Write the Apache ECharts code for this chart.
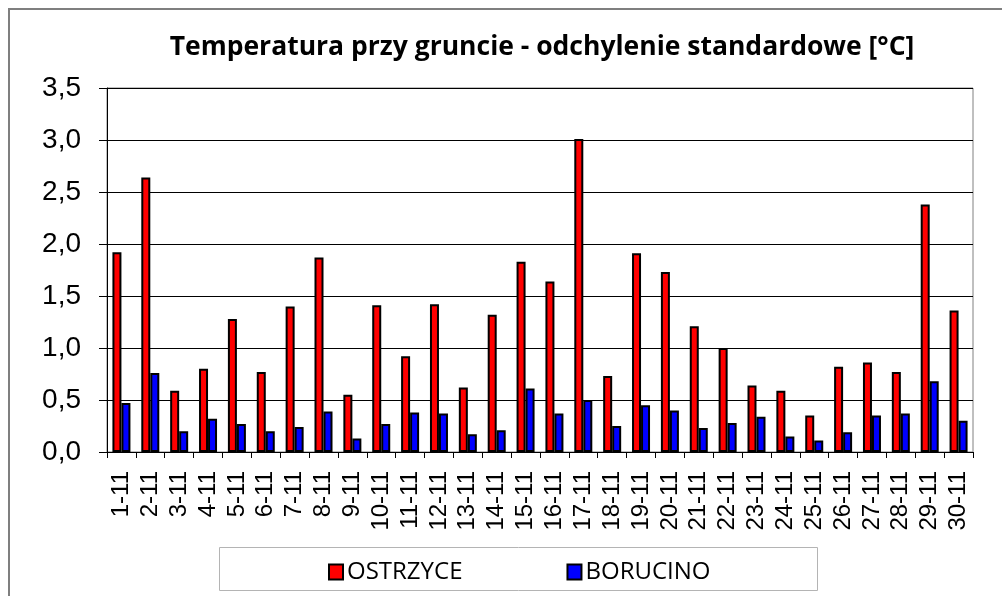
<!DOCTYPE html>
<html>
<head>
<meta charset="utf-8">
<script src="https://cdn.jsdelivr.net/npm/echarts@6/dist/echarts.min.js"></script>
<style>
  html, body { margin: 0; padding: 0; background: #fff; }
  #chart { width: 1002px; height: 596px; }
</style>
</head>
<body>
<div id="chart"></div>
<script>
// Days of November
const days = ['1-11','2-11','3-11','4-11','5-11','6-11','7-11','8-11','9-11','10-11',
              '11-11','12-11','13-11','14-11','15-11','16-11','17-11','18-11','19-11','20-11',
              '21-11','22-11','23-11','24-11','25-11','26-11','27-11','28-11','29-11','30-11'];

// Standard deviation of ground-level temperature [°C]
const ostrzyce = [1.92, 2.64, 0.59, 0.80, 1.28, 0.77, 1.40, 1.87, 0.55, 1.41,
                  0.92, 1.42, 0.62, 1.32, 1.83, 1.64, 3.01, 0.73, 1.91, 1.73,
                  1.21, 1.00, 0.64, 0.59, 0.35, 0.82, 0.86, 0.77, 2.38, 1.36];
const borucino = [0.47, 0.76, 0.20, 0.32, 0.27, 0.20, 0.24, 0.39, 0.13, 0.27,
                  0.38, 0.37, 0.17, 0.21, 0.61, 0.37, 0.50, 0.25, 0.45, 0.40,
                  0.23, 0.28, 0.34, 0.15, 0.11, 0.19, 0.35, 0.37, 0.68, 0.30];

const yTicks = { min: 0, max: 3.5, interval: 0.5 };

const chart = echarts.init(document.getElementById('chart'), null, { renderer: 'canvas' });

const barStyle = (color) => ({ color: color, borderColor: '#000', borderWidth: 2 });

chart.setOption({
  animation: false,
  backgroundColor: '#fff',
  title: {
    text: 'Temperatura przy gruncie - odchylenie standardowe [°C]',
    left: 537,
    top: 29,
    textAlign: 'center',
    textStyle: { fontFamily: 'Open Sans', fontWeight: 'bold', fontSize: 26.5, color: '#000' }
  },
  graphic: [
    { type: 'rect', shape: { x: 9, y: 9, width: 1010, height: 610 },
      style: { fill: 'none', stroke: '#7f7f7f', lineWidth: 2 }, silent: true },
    { type: 'rect', shape: { x: 219.5, y: 547.5, width: 598, height: 43 },
      style: { fill: '#fff', stroke: '#b4b4b4', lineWidth: 1 }, silent: true, z: -1 }
  ],
  legend: {
    left: 323,
    top: 555,
    itemWidth: 14,
    itemHeight: 15,
    itemGap: 104,
    icon: 'rect',
    textStyle: { fontFamily: 'Open Sans', fontSize: 24, color: '#000', padding: [0, 0, 0, -1] },
    data: ['OSTRZYCE', 'BORUCINO']
  },
  grid: {
    left: 107, right: 29, top: 88, bottom: 144,
    show: true, borderColor: '#808080', borderWidth: 1, backgroundColor: 'transparent'
  },
  xAxis: {
    type: 'category',
    data: days,
    axisLine: { lineStyle: { color: '#000', width: 1 } },
    axisTick: { show: true, length: 6, lineStyle: { color: '#000' } },
    axisLabel: {
      rotate: 90, margin: 19, interval: 0,
      fontFamily: 'Liberation Sans', fontSize: 24, color: '#000'
    }
  },
  yAxis: {
    type: 'value',
    min: yTicks.min, max: yTicks.max, interval: yTicks.interval,
    axisLine: { show: true, lineStyle: { color: '#000', width: 1 } },
    axisTick: { show: true, length: 8, lineStyle: { color: '#000' } },
    splitLine: { show: true, lineStyle: { color: '#000', width: 1 } },
    axisLabel: {
      margin: 26,
      fontFamily: 'Liberation Sans', fontSize: 28, color: '#000',
      formatter: (v) => v.toFixed(1).replace('.', ',')
    }
  },
  series: [
    { name: 'OSTRZYCE', type: 'bar', data: ostrzyce, barWidth: 9, barGap: '0%',
      itemStyle: barStyle('#ff0000') },
    { name: 'BORUCINO', type: 'bar', data: borucino, barWidth: 9, barGap: '0%',
      itemStyle: barStyle('#0000ff') }
  ]
});
</script>
</body>
</html>
